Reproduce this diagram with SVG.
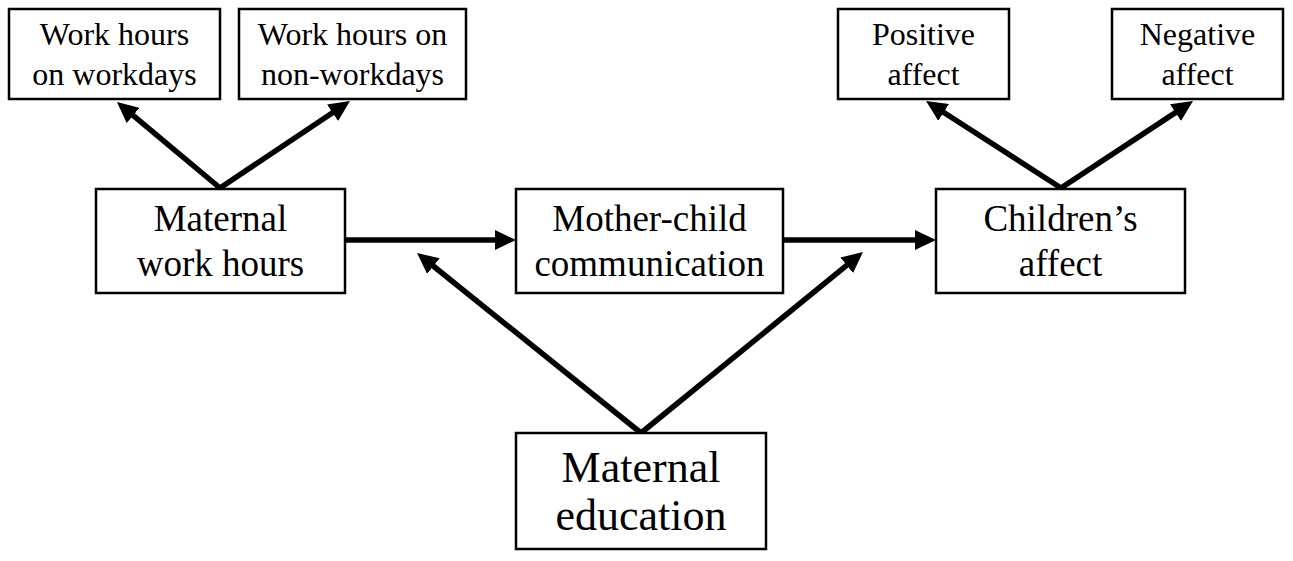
<svg xmlns="http://www.w3.org/2000/svg" width="1293" height="561" viewBox="0 0 1293 561">
<defs>
<style>
.box{fill:#fff;stroke:#000;stroke-width:2.5}
.t{font-family:"Liberation Serif","Times New Roman",serif;fill:#000;text-anchor:middle}
.s{font-size:32px}
.m{font-size:37px}
.l{font-size:44px}
.c{stroke:#000;stroke-width:5.5;fill:none;marker-end:url(#ah)}
</style>
<marker id="ah" viewBox="0 0 21 20" refX="9" refY="10" markerWidth="21" markerHeight="20" markerUnits="userSpaceOnUse" orient="auto">
<path d="M0,0 L21,10 L0,20 z" fill="#000"/>
</marker>
</defs>
<rect width="1293" height="561" fill="#fff"/>
<g id="connectors">
<line class="c" x1="220" y1="188" x2="126.2" y2="109.7"/>
<line class="c" x1="220" y1="188" x2="340" y2="107.7"/>
<line class="c" x1="345" y1="240" x2="504" y2="240"/>
<line class="c" x1="783" y1="240" x2="924" y2="240"/>
<line class="c" x1="641" y1="433" x2="426.4" y2="260.5"/>
<line class="c" x1="641" y1="433" x2="853.7" y2="259.6"/>
<line class="c" x1="1061" y1="188" x2="936.1" y2="107.5"/>
<line class="c" x1="1061" y1="188" x2="1183" y2="107.6"/>
</g>
<g id="work-hours-workdays">
<rect class="box" x="9" y="9" width="211" height="90"/>
<text class="t s" x="114.5" y="45">Work hours</text>
<text class="t s" x="114.5" y="85">on workdays</text>
</g>
<g id="work-hours-non-workdays">
<rect class="box" x="239" y="9" width="227" height="90"/>
<text class="t s" x="352.5" y="45">Work hours on</text>
<text class="t s" x="352.5" y="85">non-workdays</text>
</g>
<g id="positive-affect">
<rect class="box" x="838" y="9" width="171" height="90"/>
<text class="t s" x="923.5" y="45">Positive</text>
<text class="t s" x="923.5" y="85">affect</text>
</g>
<g id="negative-affect">
<rect class="box" x="1112" y="9" width="171" height="90"/>
<text class="t s" x="1197.5" y="45">Negative</text>
<text class="t s" x="1197.5" y="85">affect</text>
</g>
<g id="maternal-work-hours">
<rect class="box" x="96" y="189" width="249" height="104"/>
<text class="t m" x="220.5" y="231">Maternal</text>
<text class="t m" x="220.5" y="276">work hours</text>
</g>
<g id="mother-child-communication">
<rect class="box" x="516" y="189" width="267" height="104"/>
<text class="t m" x="649.5" y="231">Mother-child</text>
<text class="t m" x="649.5" y="276">communication</text>
</g>
<g id="childrens-affect">
<rect class="box" x="936" y="189" width="249" height="104"/>
<text class="t m" x="1060.5" y="231">Children’s</text>
<text class="t m" x="1060.5" y="276">affect</text>
</g>
<g id="maternal-education">
<rect class="box" x="516" y="433" width="250" height="116"/>
<text class="t l" x="641" y="482">Maternal</text>
<text class="t l" x="641" y="530">education</text>
</g>
</svg>
